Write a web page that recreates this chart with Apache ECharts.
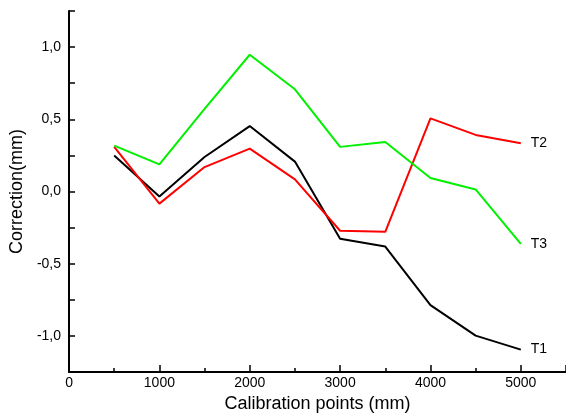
<!DOCTYPE html>
<html><head><meta charset="utf-8">
<script src="https://cdn.jsdelivr.net/npm/echarts@6/dist/echarts.min.js"></script>
<style>html,body{margin:0;padding:0;background:#fff}#c{width:566px;height:420px}</style>
</head><body><div id="c"></div>
<script>
var xPoints = [500, 1000, 1500, 2000, 2500, 3000, 3500, 4000, 4500, 5000];
var seriesNames = ['T1', 'T2', 'T3'];
var t1 = [0.249, -0.035, 0.239, 0.453, 0.207, -0.327, -0.381, -0.787, -0.998, -1.095];
var t2 = [0.309, -0.084, 0.169, 0.297, 0.084, -0.272, -0.279, 0.506, 0.392, 0.334];
var t3 = [0.318, 0.188, 0.572, 0.947, 0.708, 0.309, 0.343, 0.093, 0.014, -0.362];
var colors = ['#000000', '#ff0000', '#00f000'];
var font = 'Arial, "Liberation Sans", sans-serif';
function pairs(v){ return xPoints.map(function(x,i){ return [x, v[i]]; }); }
var chart = echarts.init(document.getElementById('c'));
var allData = [t1, t2, t3];
chart.setOption({
  animation: false,
  grid: {left: 68, top: 11, bottom: 48, right: -7},
  xAxis: {
    type: 'value', min: 0, max: 5500, interval: 1000,
    name: 'Calibration points (mm)', nameLocation: 'middle', nameGap: 16,
    nameTextStyle: {fontFamily: font, fontSize: 18, color: '#000'},
    axisLine: {show: true, onZero: false, lineStyle: {color: '#000', width: 2}},
    axisTick: {inside: true, length: 7, lineStyle: {color: '#000', width: 1.5}},
    minorTick: {show: true, splitNumber: 2, length: 4, lineStyle: {color: '#000', width: 1.5}},
    axisLabel: {fontFamily: font, fontSize: 14, color: '#000', margin: 4, showMaxLabel: false,
      formatter: function(v){ return String(v); }},
    splitLine: {show: false}
  },
  yAxis: {
    type: 'value', min: -1.25, max: 1.25, interval: 0.25,
    name: 'Correction(mm)', nameLocation: 'middle', nameGap: 38, nameRotate: 90,
    nameTextStyle: {fontFamily: font, fontSize: 18, color: '#000'},
    axisLine: {show: true, onZero: false, lineStyle: {color: '#000', width: 2}},
    axisTick: {inside: true, length: 6, lineStyle: {color: '#000', width: 1.5}},
    axisLabel: {fontFamily: font, fontSize: 14, color: '#000', margin: 8,
      formatter: function(v){
        var r = Math.round(v * 100);
        if (r % 50 !== 0 || Math.abs(r) > 100) return '';
        return (v).toFixed(1).replace('.', ',');
      }},
    splitLine: {show: false}
  },
  series: seriesNames.map(function(n, i){
    return {
      name: n, type: 'line', data: pairs(allData[i]), symbol: 'none',
      lineStyle: {color: colors[i], width: 2},
      endLabel: {show: true, formatter: n, fontFamily: font, fontSize: 14, color: '#000', distance: 10}
    };
  })
});
</script></body></html>
